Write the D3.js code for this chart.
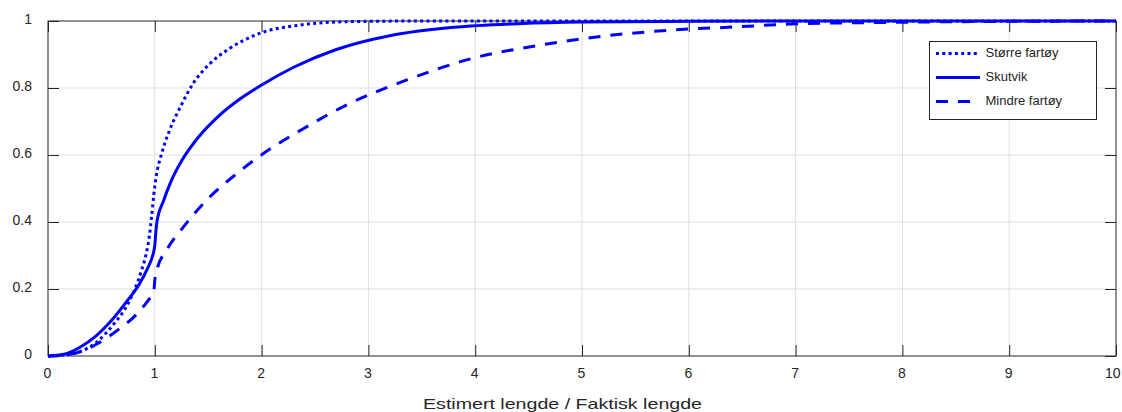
<!DOCTYPE html>
<html>
<head>
<meta charset="utf-8">
<script src="https://cdn.jsdelivr.net/npm/d3@7"></script>
<style>
  body { margin: 0; background: #fff; }
  text { font-family: "Liberation Sans", Arial, sans-serif; fill: #262626; }
  .grid line { stroke: #dfdfdf; stroke-width: 1; }
  .curve { fill: none; stroke: #0000ff; stroke-width: 3; }
</style>
</head>
<body>
<svg id="chart" width="1122" height="412"></svg>
<script>
// data
var xTicks = [0, 1, 2, 3, 4, 5, 6, 7, 8, 9, 10];
var yTicks = [0, 0.2, 0.4, 0.6, 0.8, 1];
var yTickLabels = ["0", "0.2", "0.4", "0.6", "0.8", "1"];
var xLabel = "Estimert lengde / Faktisk lengde";

var storreX = [0, 0.15, 0.3, 0.45, 0.62, 0.72, 0.81, 0.87, 0.92, 0.95, 0.97, 0.99, 1.01, 1.065, 1.14, 1.24, 1.36, 1.52, 1.7, 1.98, 2.36, 2.8, 3.5, 5, 10];
var storreY = [0, 0.003, 0.013, 0.04, 0.097, 0.14, 0.197, 0.25, 0.306, 0.36, 0.416, 0.48, 0.53, 0.605, 0.675, 0.744, 0.814, 0.874, 0.918, 0.963, 0.988, 0.998, 1, 1, 1];

var skutvikX = [0, 0.15, 0.3, 0.45, 0.6, 0.75, 0.85, 0.93, 0.98, 1.0, 1.01, 1.02, 1.08, 1.15, 1.25, 1.4, 1.6, 1.8, 2.0, 2.3, 2.7, 3.2, 3.8, 4.4, 5.0, 6.0, 7, 10];
var skutvikY = [0, 0.005, 0.026, 0.06, 0.108, 0.168, 0.212, 0.26, 0.3, 0.33, 0.37, 0.40, 0.462, 0.52, 0.582, 0.65, 0.717, 0.768, 0.809, 0.862, 0.915, 0.956, 0.981, 0.992, 0.997, 0.999, 1, 1];

var mindreX = [0, 0.2, 0.35, 0.47, 0.655, 0.84, 0.94, 0.99, 1.0, 1.02, 1.11, 1.27, 1.5, 1.75, 2.02, 2.42, 2.8, 3.36, 3.98, 4.61, 5.2, 5.85, 6.48, 6.95, 7.9, 9, 10];
var mindreY = [0, 0.005, 0.018, 0.038, 0.078, 0.128, 0.167, 0.19, 0.227, 0.257, 0.316, 0.386, 0.47, 0.54, 0.605, 0.684, 0.75, 0.824, 0.889, 0.928, 0.955, 0.973, 0.983, 0.991, 0.996, 0.999, 1];

var seriesNames = ["Større fartøy", "Skutvik", "Mindre fartøy"];

var margin = { top: 21, right: 6, bottom: 56, left: 48 },
    width = 1122 - margin.left - margin.right,
    height = 412 - margin.top - margin.bottom;

var svg = d3.select("#chart");
var g = svg.append("g")
    .attr("transform", "translate(" + margin.left + "," + margin.top + ")");

var x = d3.scaleLinear().domain([0, 10]).range([0, width]);
var y = d3.scaleLinear().domain([0, 1]).range([height, 0]);

// grid
var grid = g.append("g").attr("class", "grid");
grid.selectAll(".gx").data(xTicks.slice(1, -1)).enter().append("line")
    .attr("x1", function (d) { return x(d); }).attr("x2", function (d) { return x(d); })
    .attr("y1", 0).attr("y2", height);
grid.selectAll(".gy").data(yTicks.slice(1, -1)).enter().append("line")
    .attr("y1", function (d) { return y(d); }).attr("y2", function (d) { return y(d); })
    .attr("x1", 0).attr("x2", width);

// axes (ticks inward, on all four sides)
var tl = 11;
function styleAxis(sel) {
    sel.select(".domain").remove();
    sel.selectAll(".tick line").attr("stroke", "#262626");
    sel.selectAll("text").style("font-size", "14px").attr("fill", "#262626");
}
var xAxis = g.append("g").attr("transform", "translate(0," + height + ")")
    .call(d3.axisBottom(x).tickValues(xTicks).tickSizeInner(-tl).tickSizeOuter(0).tickPadding(12));
styleAxis(xAxis);
xAxis.selectAll(".tick text").attr("x", -1);
// last label would run past the edge, keep it inside
xAxis.selectAll(".tick text").filter(function (d) { return d === 10; })
    .attr("text-anchor", "end").attr("x", 4);

var xTop = g.append("g")
    .call(d3.axisTop(x).tickValues(xTicks).tickSizeInner(-tl).tickSizeOuter(0).tickFormat(""));
styleAxis(xTop);
var yAxis = g.append("g")
    .call(d3.axisLeft(y).tickValues(yTicks).tickSizeInner(-tl).tickSizeOuter(0).tickPadding(16)
        .tickFormat(function (d, i) { return yTickLabels[i]; }));
styleAxis(yAxis);
yAxis.selectAll("text").attr("dy", "0.2em");
var yRight = g.append("g").attr("transform", "translate(" + width + ",0)")
    .call(d3.axisRight(y).tickValues(yTicks).tickSizeInner(-tl).tickSizeOuter(0).tickFormat(""));
styleAxis(yRight);

g.append("rect")
    .attr("x", 0).attr("y", 0).attr("width", width).attr("height", height)
    .attr("fill", "none").attr("stroke", "#262626").attr("stroke-width", 1);

// x label
g.append("text")
    .attr("x", 514.5).attr("y", height + 53)
    .attr("text-anchor", "middle")
    .attr("textLength", 279).attr("lengthAdjust", "spacingAndGlyphs")
    .style("font-size", "15px")
    .text(xLabel);

// curves
var line = d3.line()
    .x(function (d) { return x(d[0]); })
    .y(function (d) { return y(d[1]); })
    .curve(d3.curveMonotoneX);

var dashes = ["3,3.3", null, "12,10"];
var series = [
    d3.zip(storreX, storreY),
    d3.zip(skutvikX, skutvikY),
    d3.zip(mindreX, mindreY)
];

series.forEach(function (s, i) {
    g.append("path")
        .datum(s)
        .attr("class", "curve")
        .attr("stroke-dasharray", dashes[i])
        .attr("d", line);
});

// legend
var lg = svg.append("g").attr("transform", "translate(929.5,41.5)");
lg.append("rect")
    .attr("width", 167).attr("height", 78)
    .attr("fill", "#fff").attr("stroke", "#262626").attr("stroke-width", 1);
seriesNames.forEach(function (name, i) {
    var yy = 12 + i * 24;
    lg.append("line")
        .attr("x1", 6.5).attr("x2", 50.5).attr("y1", yy).attr("y2", yy)
        .attr("class", "curve")
        .attr("stroke-dasharray", dashes[i]);
    lg.append("text")
        .attr("x", 56).attr("y", yy - 1)
        .attr("dy", "0.35em")
        .style("font-size", "13px")
        .attr("fill", "#000")
        .text(name);
});
</script>
</body>
</html>
